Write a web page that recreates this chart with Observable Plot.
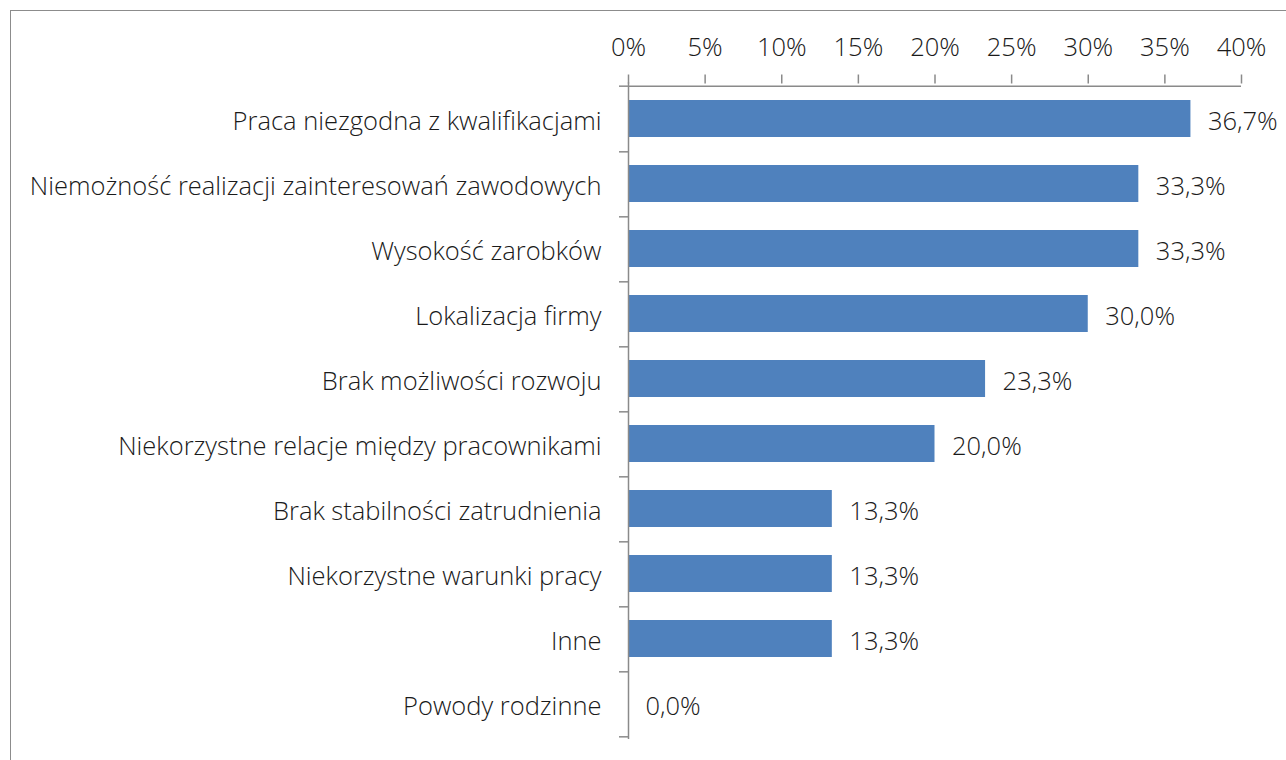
<!DOCTYPE html>
<html>
<head>
<meta charset="utf-8">
<script src="https://cdn.jsdelivr.net/npm/d3@7"></script>
<script src="https://cdn.jsdelivr.net/npm/@observablehq/plot@0.6"></script>
<style>
  html, body { margin: 0; padding: 0; background: #fff; overflow: hidden; width: 1286px; height: 760px; }
  #frame { position: absolute; left: 10px; top: 10px; width: 1300px; height: 780px; border: 1.5px solid #8c8c8c; box-sizing: border-box; }
  #chart { position: absolute; left: 0; top: 0; }
  #chart svg { font-family: "Open Sans", sans-serif; font-weight: 300; }
</style>
</head>
<body>
<div id="frame"></div>
<div id="chart"></div>
<script>
const categories = [
  "Praca niezgodna z kwalifikacjami",
  "Niemożność realizacji zainteresowań zawodowych",
  "Wysokość zarobków",
  "Lokalizacja firmy",
  "Brak możliwości rozwoju",
  "Niekorzystne relacje między pracownikami",
  "Brak stabilności zatrudnienia",
  "Niekorzystne warunki pracy",
  "Inne",
  "Powody rodzinne"
];
const values = [36.7, 33.3, 33.3, 30.0, 23.3, 20.0, 13.3, 13.3, 13.3, 0.0];
const xTicks = [0, 5, 10, 15, 20, 25, 30, 35, 40];

const data = categories.map((c, i) => ({category: c, value: values[i]}));
const fmt = v => d3.format(".1f")(v).replace(".", ",") + "%";

const W = 1286, H = 760;
const mTop = 82.5, mBottom = 21, mLeft = 628, mRight = 45;
const step = (H - mTop - mBottom) / categories.length;
const tickLen = 9;
const tickUnits = tickLen * 40 / (W - mLeft - mRight);
const axisColor = "#8a8a8a";
const fs = 25.5;

const plot = Plot.plot({
  width: W,
  height: H,
  marginTop: mTop,
  marginBottom: mBottom,
  marginLeft: mLeft,
  marginRight: mRight,
  style: {fontSize: fs + "px", color: "#1a1a1a", background: "transparent"},
  x: {domain: [0, 40]},
  y: {domain: categories, paddingInner: 0.43, paddingOuter: 0.215},
  marks: [
    Plot.barX(data, {y: "category", x: "value", fill: "#4f81bd"}),
    Plot.text(data, {y: "category", x: "value", text: d => fmt(d.value), textAnchor: "start", dx: 17, dy: 2.5, fill: "#1a1a1a", fontSize: fs}),
    // category boundary ticks
    Plot.ruleY(categories, {y: d => d, x1: -tickUnits, x2: 0, dy: step / 2, stroke: axisColor, strokeWidth: 1.5}),
    Plot.ruleY([categories[0]], {y: d => d, x1: -tickUnits, x2: 0, dy: -step / 2, stroke: axisColor, strokeWidth: 1.5}),
    // axis lines
    Plot.ruleX([0], {stroke: axisColor, strokeWidth: 1.5}),
    Plot.ruleY([categories[0]], {y: d => d, x1: 0, x2: 40, dy: -step / 2, stroke: axisColor, strokeWidth: 1.5}),
    Plot.axisX({anchor: "top", ticks: xTicks, tickSize: tickLen, tickPadding: 18, tickFormat: d => d + "%", stroke: axisColor, strokeWidth: 1.5, strokeOpacity: 1, fill: "#1a1a1a", fontSize: fs, label: null}),
    Plot.axisY({anchor: "left", tickSize: 0, tickPadding: 27, dy: 2.5, fill: "#1a1a1a", fontSize: fs, label: null})
  ]
});
document.getElementById("chart").appendChild(plot);
</script>
</body>
</html>
